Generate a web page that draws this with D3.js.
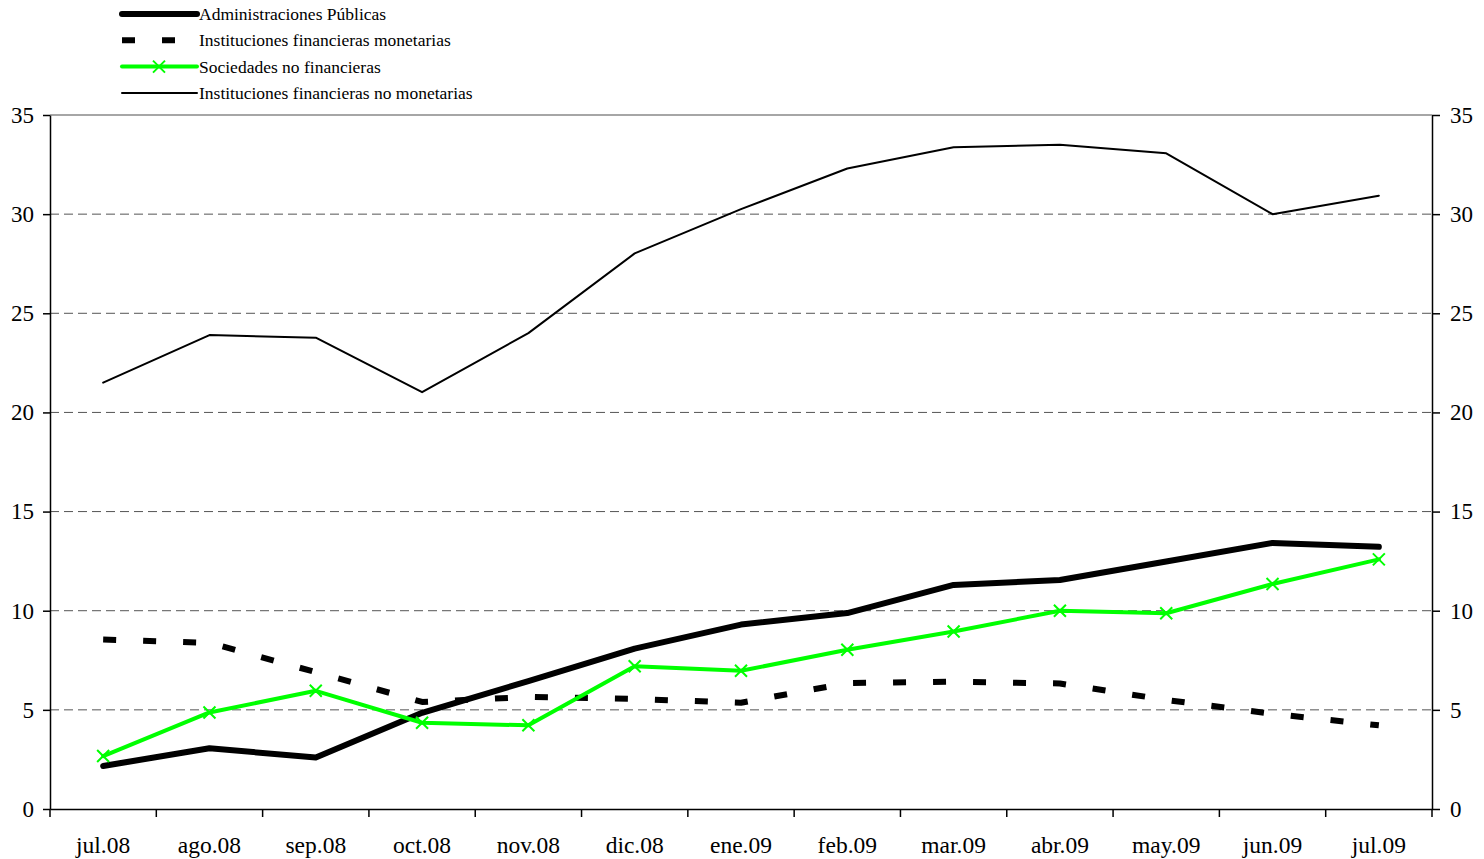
<!DOCTYPE html>
<html>
<head>
<meta charset="utf-8">
<script src="https://cdn.jsdelivr.net/npm/d3@7"></script>
<style>
  body { margin: 0; background: #fff; }
  text { font-family: "Liberation Serif", "Times New Roman", serif; }
</style>
</head>
<body>
<script>
var months = ['jul.08','ago.08','sep.08','oct.08','nov.08','dic.08','ene.09','feb.09','mar.09','abr.09','may.09','jun.09','jul.09'];
var admPublicas = [2.17, 3.06, 2.6, 4.85, 6.45, 8.09, 9.3, 9.88, 11.3, 11.55, 12.48, 13.42, 13.22];
var ifMonetarias = [8.55, 8.38, 6.9, 5.4, 5.65, 5.55, 5.36, 6.35, 6.42, 6.33, 5.5, 4.8, 4.22];
var sociedades = [2.67, 4.87, 5.96, 4.35, 4.22, 7.2, 6.97, 8.03, 8.95, 10.0, 9.87, 11.35, 12.59];
var ifNoMonetarias = [21.5, 23.9, 23.77, 21.02, 24.0, 28.02, 30.25, 32.3, 33.37, 33.5, 33.07, 30.0, 30.93];
var yTicks = [0, 5, 10, 15, 20, 25, 30, 35];

var series = [
  {name: 'Administraciones Públicas', values: admPublicas, color: '#000', width: 6, dash: null, mark: false},
  {name: 'Instituciones financieras monetarias', values: ifMonetarias, color: '#000', width: 6, dash: '13,27', mark: false},
  {name: 'Sociedades no financieras', values: sociedades, color: '#00ff00', width: 4, dash: null, mark: true},
  {name: 'Instituciones financieras no monetarias', values: ifNoMonetarias, color: '#000', width: 2, dash: null, mark: false}
];

var svg = d3.select('body').append('svg')
    .attr('width', 1484)
    .attr('height', 859);

var plotLeft = 50, plotRight = 1432, plotTop = 115, plotBottom = 809;

var x = d3.scaleBand().domain(months).range([plotLeft, plotRight]);
var y = d3.scaleLinear().domain([0, 35]).range([plotBottom, plotTop]);
var cx = function(i) { return x(months[i]) + x.bandwidth() / 2; };

// gridlines
svg.append('g')
  .selectAll('line')
  .data(yTicks.filter(function(d) { return d > 0 && d < 35; }))
  .enter().append('line')
    .attr('x1', plotLeft).attr('x2', plotRight)
    .attr('y1', function(d) { return y(d); })
    .attr('y2', function(d) { return y(d); })
    .attr('stroke', '#555')
    .attr('stroke-width', 1)
    .attr('stroke-dasharray', '9,5');

// top border
svg.append('line')
    .attr('x1', plotLeft).attr('x2', plotRight)
    .attr('y1', y(35)).attr('y2', y(35))
    .attr('stroke', '#888')
    .attr('stroke-width', 1.5);

// left axis
var yl = svg.append('g')
    .attr('transform', 'translate(' + plotLeft + ',0)')
    .call(d3.axisLeft(y).tickValues(yTicks).tickSize(7).tickPadding(9).tickSizeOuter(0));
// right axis
var yr = svg.append('g')
    .attr('transform', 'translate(' + plotRight + ',0)')
    .call(d3.axisRight(y).tickValues(yTicks).tickSize(8).tickPadding(10).tickSizeOuter(0));
[yl, yr].forEach(function(g) {
  g.selectAll('text').attr('font-size', 23).attr('fill', '#000')
    .style('font-family', '"Liberation Serif", serif');
  g.selectAll('line, path').attr('stroke', '#000').attr('stroke-width', 1.5);
});

// bottom axis (labels centred, ticks at band edges)
var xa = svg.append('g')
    .attr('transform', 'translate(0,' + plotBottom + ')')
    .call(d3.axisBottom(x).tickSize(0).tickPadding(27).tickSizeOuter(0));
xa.selectAll('text').attr('font-size', 23.5).attr('fill', '#000')
  .style('font-family', '"Liberation Serif", serif');
xa.select('.domain').attr('stroke', '#000').attr('stroke-width', 1.5);
xa.selectAll('.edge')
  .data(months.map(function(m) { return x(m); }).concat([plotRight]))
  .enter().append('line')
    .attr('class', 'edge')
    .attr('x1', function(d) { return d; }).attr('x2', function(d) { return d; })
    .attr('y1', 0).attr('y2', 8)
    .attr('stroke', '#000').attr('stroke-width', 1.5);

// lines
var line = d3.line()
    .x(function(d, i) { return cx(i); })
    .y(function(d) { return y(d); });

series.forEach(function(s) {
  svg.append('path')
    .attr('d', line(s.values))
    .attr('fill', 'none')
    .attr('stroke', s.color)
    .attr('stroke-width', s.width)
    .attr('stroke-linejoin', 'round')
    .attr('stroke-linecap', s.dash ? 'butt' : 'round')
    .attr('stroke-dasharray', s.dash);
  if (s.mark) {
    var k = 6;
    svg.append('g').selectAll('path')
      .data(s.values)
      .enter().append('path')
        .attr('d', function(d, i) {
          var px = cx(i), py = y(d);
          return 'M' + (px - k) + ',' + (py - k) + 'L' + (px + k) + ',' + (py + k) +
                 'M' + (px - k) + ',' + (py + k) + 'L' + (px + k) + ',' + (py - k);
        })
        .attr('stroke', s.color)
        .attr('stroke-width', 2);
  }
});

// legend
var lg = svg.append('g');
series.forEach(function(s, i) {
  var ly = 14 + i * 26.3;
  lg.append('line')
    .attr('x1', 122).attr('x2', 197)
    .attr('y1', ly).attr('y2', ly)
    .attr('stroke', s.color)
    .attr('stroke-width', s.width)
    .attr('stroke-linecap', s.dash ? 'butt' : 'round')
    .attr('stroke-dasharray', s.dash);
  if (s.mark) {
    lg.append('path')
      .attr('d', 'M153,' + (ly - 6) + 'L165,' + (ly + 6) + 'M153,' + (ly + 6) + 'L165,' + (ly - 6))
      .attr('stroke', s.color).attr('stroke-width', 2);
  }
  lg.append('text')
    .attr('x', 199).attr('y', ly + 6)
    .attr('font-size', 17.5)
    .text(s.name);
});
</script>
</body>
</html>
